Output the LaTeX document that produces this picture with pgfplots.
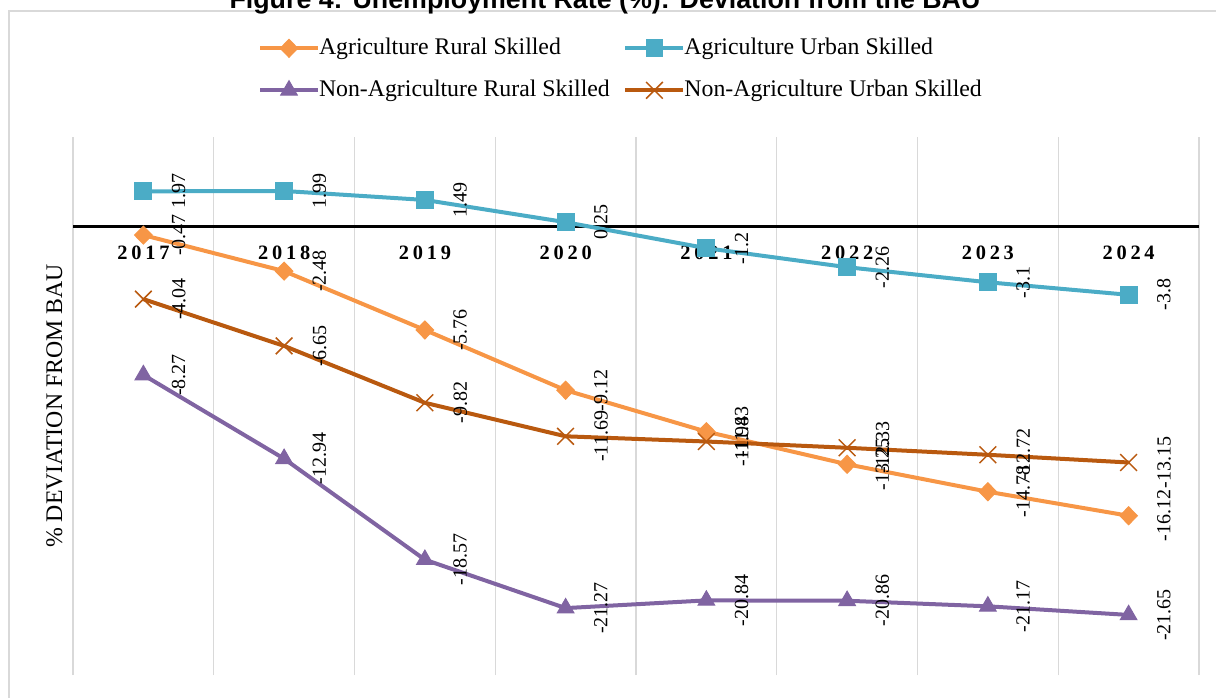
\documentclass[border=0pt]{standalone}
\usepackage{fontspec}
\setmainfont{Liberation Serif}
\newfontfamily\titlefont{Liberation Sans}
\usepackage{pgfplots}
\pgfplotsset{compat=1.18}
\definecolor{cAR}{HTML}{F79646}
\definecolor{cAU}{HTML}{4BACC6}
\definecolor{cNAR}{HTML}{8064A2}
\definecolor{cNAU}{RGB}{185,89,15}
\definecolor{gridgray}{HTML}{D9D9D9}
\newcommand{\yr}[4]{#1\hspace{1.9pt}#2\hspace{1.9pt}#3\hspace{1.9pt}#4}
\begin{document}
\begin{tikzpicture}
\useasboundingbox (0,0) rectangle (608pt,348.5pt);
\draw[draw=gridgray, line width=1pt] (4.5pt,-10pt) -- (4.5pt,343pt) -- (640pt,343pt);
\node[anchor=base, font=\titlefont\bfseries\fontsize{13.4}{16}\selectfont, inner sep=0pt] at (302.5pt,344pt) {Figure 4: Unemployment Rate (\%): Deviation from the BAU};
\node[rotate=90, anchor=base, font=\fontsize{11.9}{14}\selectfont, inner sep=0pt] at (31pt,145.5pt) {\% DEVIATION FROM BAU};
\begin{axis}[
  at={(36.5pt,11pt)}, anchor=south west, scale only axis,
  width=563pt, height=269pt,
  xmin=-0.5, xmax=7.5, ymin=-25, ymax=5,
  clip=false,
  axis line style={draw=none},
  xtick={0,...,7},
  xticklabels={\yr2017,\yr2018,\yr2019,\yr2020,\yr2021,\yr2022,\yr2023,\yr2024},
  minor xtick={-0.5,0.5,...,7.5},
  xminorgrids=true,
  minor grid style={draw=gridgray, line width=0.7pt},
  major tick length=0pt, minor tick length=0pt,
  ytick=\empty,
  xticklabel style={font=\fontsize{10.2}{12}\selectfont\bfseries, anchor=base, yshift=207.85pt, inner sep=0pt},
  point meta=explicit symbolic,
  nodes near coords,
  every node near coord/.append style={font=\fontsize{10}{12}\selectfont, text=black, xshift=14pt, rotate=90, anchor=north, inner sep=0pt},
  legend columns=2,
  legend cell align=left,
  legend style={at={(0.1643,1.1853)}, anchor=north west, draw=none, fill=none, inner sep=0pt, outer sep=0pt,
    font=\fontsize{11.9}{14}\selectfont,
    nodes={inner sep=0pt, text height=8.5pt, text depth=2.5pt},
    /tikz/column sep=-0.5pt,
    /tikz/every even column/.append style={column sep=6.8pt},
    /tikz/row sep=10pt},
  legend image code/.code={\draw[mark repeat=2,mark phase=2,#1] plot coordinates {(0pt,0pt) (14.5pt,0pt) (29pt,0pt)};},
  legend entries={Agriculture Rural Skilled, Agriculture Urban Skilled, Non-Agriculture Rural Skilled, Non-Agriculture Urban Skilled},
]
\draw[black, line width=1.65pt] (axis cs:-0.5,0) -- (axis cs:7.5,0);
\addplot[cAR, line width=2pt, mark=diamond*, mark size=4.5pt, mark options={xscale=1.3, fill=cAR, draw=cAR, line width=0.5pt}]
  coordinates {(0,-0.47) [-0.47] (1,-2.48) [-2.48] (2,-5.76) [-5.76] (3,-9.12) [-9.12] (4,-11.43) [-11.43] (5,-13.25) [-13.25] (6,-14.78) [-14.78] (7,-16.12) [-16.12]};
\addplot[cAU, line width=2pt, mark=square*, mark size=4.2pt, mark options={fill=cAU, draw=cAU, line width=0.5pt}]
  coordinates {(0,1.97) [1.97] (1,1.99) [1.99] (2,1.49) [1.49] (3,0.25) [0.25] (4,-1.2) [-1.2] (5,-2.26) [-2.26] (6,-3.1) [-3.1] (7,-3.8) [-3.8]};
\addplot[cNAR, line width=2pt, mark=triangle*, mark size=4.8pt, mark options={fill=cNAR, draw=cNAR, line width=0.5pt}]
  coordinates {(0,-8.27) [-8.27] (1,-12.94) [-12.94] (2,-18.57) [-18.57] (3,-21.27) [-21.27] (4,-20.84) [-20.84] (5,-20.86) [-20.86] (6,-21.17) [-21.17] (7,-21.65) [-21.65]};
\addplot[cNAU, line width=2pt, mark=x, mark size=5.9pt, mark options={draw=cNAU, line width=0.75pt}]
  coordinates {(0,-4.04) [-4.04] (1,-6.65) [-6.65] (2,-9.82) [-9.82] (3,-11.69) [-11.69] (4,-11.98) [-11.98] (5,-12.33) [-12.33] (6,-12.72) [-12.72] (7,-13.15) [-13.15]};
\end{axis}
\end{tikzpicture}
\end{document}
